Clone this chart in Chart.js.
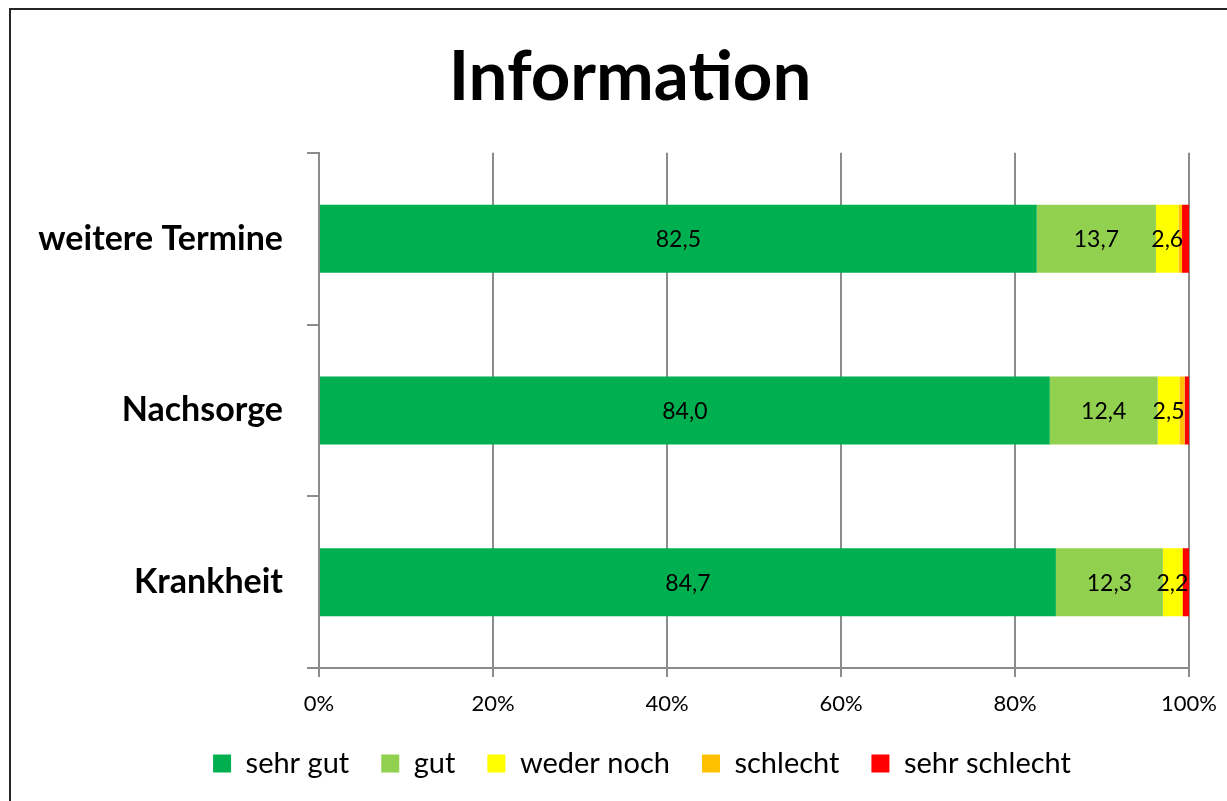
<!DOCTYPE html>
<html>
<head>
<meta charset="utf-8">
<script src="https://cdn.jsdelivr.net/npm/chart.js@4.4.1/dist/chart.umd.min.js"></script>
<style>
  html, body { margin: 0; padding: 0; background: #fff; overflow: hidden; }
  #frame {
    position: absolute; left: 9px; top: 8px;
    width: 1260px; height: 820px;
    border: 2px solid #262626;
  }
  #wrap { position: absolute; left: 0; top: 0; width: 1227px; height: 801px; }
</style>
</head>
<body>
<div id="frame"></div>
<div id="wrap"><canvas id="infoChart" width="1227" height="801"></canvas></div>
<script>
// Categories (top to bottom) and answer shares in percent
const categories = ['weitere Termine', 'Nachsorge', 'Krankheit'];
const sehrGut      = [82.5, 84.0, 84.7];
const gut          = [13.7, 12.4, 12.3];
const wederNoch    = [2.6, 2.5, 2.2];
const schlecht     = [0.4, 0.6, 0.1];
const sehrSchlecht = [0.8, 0.5, 0.7];
const xTicks = [0, 20, 40, 60, 80, 100];

const FONT = 'Lato, "Open Sans", sans-serif';

// draws the value labels inside the first three segments
const barLabels = {
    id: 'barLabels',
    afterLayout(chart) {
        // let the long category names run past the axis box without clipping
        chart.scales.y.left = 0;
        // legend centring counts the trailing padding, nudge it back
        chart.legend.left += 12;
        chart.legend.right += 12;
    },
    afterDatasetsDraw(chart) {
        const ctx = chart.ctx;
        ctx.save();
        ctx.font = '23px ' + FONT;
        ctx.fillStyle = '#000';
        ctx.textAlign = 'center';
        ctx.textBaseline = 'middle';
        [0, 1, 2].forEach(di => {
            const meta = chart.getDatasetMeta(di);
            meta.data.forEach((bar, i) => {
                const v = chart.data.datasets[di].data[i];
                const p = bar.getCenterPoint();
                ctx.fillText(v.toFixed(1).replace('.', ','), p.x, p.y + 1);
            });
        });
        ctx.restore();
    }
};

const ctx = document.getElementById('infoChart').getContext('2d');
const infoChart = new Chart(ctx, {
    type: 'bar',
    data: {
        labels: categories,
        datasets: [
            { label: 'sehr gut', data: sehrGut, backgroundColor: '#00B050' },
            { label: 'gut', data: gut, backgroundColor: '#92D050' },
            { label: 'weder noch', data: wederNoch, backgroundColor: '#FFFF00' },
            { label: 'schlecht', data: schlecht, backgroundColor: '#FFC000' },
            { label: 'sehr schlecht', data: sehrSchlecht, backgroundColor: '#FF0000' }
        ]
    },
    plugins: [barLabels],
    options: {
        indexAxis: 'y',
        responsive: false,
        animation: false,
        devicePixelRatio: 1,
        datasets: {
            bar: { barPercentage: 0.396, categoryPercentage: 1 }
        },
        layout: {
            padding: { left: 71, right: 38, top: 0, bottom: 13 }
        },
        scales: {
            x: {
                stacked: true,
                min: 0,
                max: 100,
                afterBuildTicks(scale) {
                    scale.ticks = xTicks.map(v => ({ value: v }));
                },
                afterFit(scale) {
                    scale.height = 49;
                    scale.paddingLeft = 0;
                    scale.paddingRight = 0;
                },
                ticks: {
                    callback: v => v + '%',
                    color: '#000',
                    font: { family: FONT, size: 22 },
                    padding: 14,
                    maxRotation: 0
                },
                grid: {
                    color: '#8c8c8c',
                    lineWidth: 2,
                    tickLength: 9
                },
                border: { color: '#8c8c8c', width: 2 }
            },
            y: {
                stacked: true,
                afterFit(scale) { scale.width = 248; },
                ticks: {
                    color: '#000',
                    font: { family: FONT, size: 34, weight: 'bold' },
                    padding: 24
                },
                grid: {
                    offset: true,
                    drawOnChartArea: false,
                    color: '#8c8c8c',
                    lineWidth: 2,
                    tickLength: 12
                },
                border: { color: '#8c8c8c', width: 2 }
            }
        },
        plugins: {
            title: {
                display: true,
                text: 'Information',
                color: '#000',
                font: { family: FONT, size: 69, weight: 'bold' },
                padding: { top: 36, bottom: 34 }
            },
            legend: {
                position: 'bottom',
                labels: {
                    color: '#000',
                    font: { family: FONT, size: 29 },
                    boxWidth: 18,
                    boxHeight: 18,
                    padding: 32
                }
            },
            tooltip: { enabled: false }
        }
    }
});
</script>
</body>
</html>
